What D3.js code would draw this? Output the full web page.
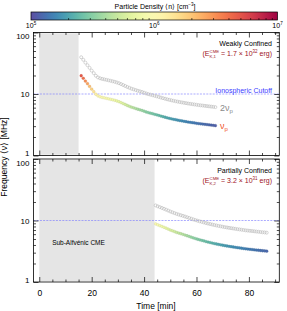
<!DOCTYPE html>
<html>
<head>
<meta charset="utf-8">
<script src="https://cdn.jsdelivr.net/npm/d3@7"></script>
<style>
  body { margin: 0; background: #fff; }
  svg { display: block; font-family: "Liberation Sans", Arial, sans-serif; }
</style>
</head>
<body>
<script>
// plasma frequency, MHz (nu_p); 2nu_p is the harmonic
const timesTop = [16.0,16.8,17.6,18.4,19.2,20.0,20.8,21.6,22.4,23.2,24.0,24.8,25.6,26.4,27.2,28.0,28.8,29.6,30.4,31.2,32.0,32.8,33.6,34.4,35.2,36.0,36.8,37.6,38.4,39.2,40.0,40.8,41.6,42.4,43.2,44.0,44.8,45.6,46.4,47.2,48.0,48.8,49.6,50.4,51.2,52.0,52.8,53.6,54.4,55.2,56.0,56.8,57.6,58.4,59.2,60.0,60.8,61.6,62.4,63.2,64.0,64.8,65.6,66.4,67.2];
const nuTop = [19.8,18.0,16.2,14.7,13.3,12.0,10.9,9.9,9.3,9.0,8.8,8.65,8.5,8.35,8.2,8.05,7.9,7.7,7.5,7.25,7.0,6.75,6.5,6.3,6.1,5.95,5.8,5.65,5.52,5.4,5.25,5.1,4.98,4.88,4.78,4.68,4.58,4.48,4.38,4.28,4.19,4.1,4.02,3.95,3.88,3.82,3.76,3.7,3.65,3.6,3.55,3.5,3.46,3.42,3.38,3.34,3.3,3.27,3.24,3.21,3.18,3.15,3.12,3.09,3.06];

const timesBottom = [44.4,45.2,46.0,46.8,47.6,48.4,49.2,50.0,50.8,51.6,52.4,53.2,54.0,54.8,55.6,56.4,57.2,58.0,58.8,59.6,60.4,61.2,62.0,62.8,63.6,64.4,65.2,66.0,66.8,67.6,68.4,69.2,70.0,70.8,71.6,72.4,73.2,74.0,74.8,75.6,76.4,77.2,78.0,78.8,79.6,80.4,81.2,82.0,82.8,83.6,84.4,85.2,86.0,86.8];
const nuBottom = [8.8,8.5,8.25,8.0,7.75,7.5,7.25,7.0,6.8,6.6,6.4,6.25,6.1,5.95,5.8,5.65,5.5,5.35,5.2,5.08,4.96,4.85,4.75,4.65,4.55,4.46,4.38,4.3,4.22,4.15,4.08,4.02,3.96,3.9,3.85,3.8,3.75,3.71,3.66,3.62,3.58,3.54,3.5,3.46,3.43,3.4,3.37,3.34,3.31,3.28,3.25,3.22,3.2,3.17];

// sub-Alfvenic intervals (min)
const shadeTop = [0, 15];
const shadeBottom = [0, 44];

const xTicks = [0, 20, 40, 60, 80];
const yTicks = [1, 10, 100];
const cbTicks = [1e5, 1e6, 1e7];
const cutoff = 10; // MHz

const w = 287, h = 311;

const svg = d3.select("body").append("svg")
  .attr("width", w).attr("height", h);

const x = d3.scaleLinear().domain([-2.2, 91.6]).range([33.5, 279.3]);

// density from plasma frequency: f_p [kHz] = 8.98 sqrt(n)
const density = nu => Math.pow(nu / 0.00898, 2);
const color = d3.scaleSequentialLog(t => d3.interpolateSpectral(1 - t)).domain([1e5, 1e7]);

// ---------- colorbar ----------
const cb = d3.scaleLog().domain([1e5, 1e7]).range([31, 277.5]);
const grad = svg.append("defs").append("linearGradient").attr("id", "cbgrad");
d3.range(0, 1.0001, 0.02).forEach(t => {
  grad.append("stop").attr("offset", t).attr("stop-color", color(Math.pow(10, 5 + 2 * t)));
});
svg.append("rect").attr("x", cb.range()[0]).attr("y", 12)
  .attr("width", cb.range()[1] - cb.range()[0]).attr("height", 8)
  .attr("fill", "url(#cbgrad)").attr("stroke", "#000").attr("stroke-width", 0.7);

const cbMinor = [2e5,3e5,4e5,5e5,6e5,7e5,8e5,9e5,2e6,3e6,4e6,5e6,6e6,7e6,8e6,9e6];
svg.append("g").attr("transform", "translate(0,20)")
  .call(d3.axisTop(cb).tickValues(cbMinor).tickSize(2).tickFormat(""))
  .call(g => g.select(".domain").remove())
  .call(g => g.selectAll("line").attr("stroke-width", 0.6));

cbTicks.forEach(v => {
  const t = svg.append("text").attr("x", cb(v)).attr("y", 27.5)
    .attr("text-anchor", "middle").attr("font-size", 7);
  t.append("tspan").text("10");
  t.append("tspan").text(Math.round(Math.log10(v))).attr("font-size", 4.5).attr("dy", -3);
});

const cbt = svg.append("text").attr("x", 155).attr("y", 8.5)
  .attr("text-anchor", "middle").attr("font-size", 7);
cbt.append("tspan").text("Particle Density \u27E8n\u27E9 [cm");
cbt.append("tspan").text("\u22123").attr("font-size", 4.5).attr("dy", -3);
cbt.append("tspan").text("]").attr("dy", 3);

// ---------- panels ----------
function panel(top, bottom, times, nus, shade, showX) {
  const y = d3.scaleLog().domain([1, 100]).range([bottom, top]);
  const g = svg.append("g");

  g.append("rect")
    .attr("x", x(shade[0])).attr("y", y(97))
    .attr("width", x(shade[1]) - x(shade[0])).attr("height", y(1.03) - y(97))
    .attr("fill", "#e5e5e5");

  g.append("line")
    .attr("x1", x.range()[0]).attr("x2", x.range()[1])
    .attr("y1", y(cutoff)).attr("y2", y(cutoff))
    .attr("stroke", "#7a7aff").attr("stroke-opacity", 0.7)
    .attr("stroke-width", 0.9).attr("stroke-dasharray", "2,1.2");

  const pts = times.map((t, i) => ({ t: t, nu: nus[i] }));

  g.selectAll("circle.harm").data(pts).enter().append("circle")
    .attr("class", "harm")
    .attr("cx", d => x(d.t)).attr("cy", d => y(2 * d.nu)).attr("r", 1.5)
    .attr("fill", "none").attr("stroke", "#b8b8b8").attr("stroke-width", 0.6);

  g.selectAll("circle.fund").data(pts).enter().append("circle")
    .attr("class", "fund")
    .attr("cx", d => x(d.t)).attr("cy", d => y(d.nu)).attr("r", 1.4)
    .attr("fill", d => color(density(d.nu)))
    .attr("stroke", d => d3.color(color(density(d.nu))).darker(0.6)).attr("stroke-width", 0.3);

  // frame
  g.append("rect").attr("x", x.range()[0]).attr("y", top)
    .attr("width", x.range()[1] - x.range()[0]).attr("height", bottom - top)
    .attr("fill", "none").attr("stroke", "#000").attr("stroke-width", 0.8);

  const xMinor = d3.range(0, 91, 5).filter(v => v % 20 !== 0);
  const yMinor = [2,3,4,5,6,7,8,9,20,30,40,50,60,70,80,90];
  const tidy = sel => sel.call(s => s.select(".domain").remove())
    .call(s => s.selectAll("line").attr("stroke-width", 0.7));

  g.append("g").attr("transform", `translate(0,${bottom})`)
    .call(d3.axisBottom(x).tickValues(xTicks).tickSize(-5).tickFormat(showX ? d3.format("d") : ""))
    .call(tidy)
    .call(s => s.selectAll("text").attr("font-size", 8.5).attr("y", 8).attr("dy", "0.71em").attr("font-family", null));
  g.append("g").attr("transform", `translate(0,${bottom})`)
    .call(d3.axisBottom(x).tickValues(xMinor).tickSize(-2.5).tickFormat("")).call(tidy);
  g.append("g").attr("transform", `translate(0,${top})`)
    .call(d3.axisTop(x).tickValues(xTicks).tickSize(-5).tickFormat("")).call(tidy);
  g.append("g").attr("transform", `translate(0,${top})`)
    .call(d3.axisTop(x).tickValues(xMinor).tickSize(-2.5).tickFormat("")).call(tidy);

  g.append("g").attr("transform", `translate(${x.range()[0]},0)`)
    .call(d3.axisLeft(y).tickValues(yTicks).tickSize(-5).tickFormat(d3.format("d")))
    .call(tidy)
    .call(s => s.selectAll("text").attr("font-size", 8).attr("x", -4).attr("font-family", null)
      .attr("y", d => d === 100 ? 3.5 : (d === 1 ? -2.5 : 0)));
  g.append("g").attr("transform", `translate(${x.range()[0]},0)`)
    .call(d3.axisLeft(y).tickValues(yMinor).tickSize(-2.5).tickFormat("")).call(tidy);
  g.append("g").attr("transform", `translate(${x.range()[1]},0)`)
    .call(d3.axisRight(y).tickValues(yTicks).tickSize(-5).tickFormat("")).call(tidy);
  g.append("g").attr("transform", `translate(${x.range()[1]},0)`)
    .call(d3.axisRight(y).tickValues(yMinor).tickSize(-2.5).tickFormat("")).call(tidy);

  return { g: g, y: y };
}

const pTop = panel(32.5, 155.5, timesTop, nuTop, shadeTop, false);
const pBot = panel(159, 282, timesBottom, nuBottom, shadeBottom, true);

// right-aligned label with stacked super/subscript
function energyLabel(yPos, sub, mant, expo) {
  const t = svg.append("text").attr("x", 0).attr("y", yPos)
    .attr("font-size", 7).attr("fill", "#a0141e");
  t.append("tspan").text("(E");
  const sp = t.append("tspan").text("CME").attr("font-size", 4.3).attr("dy", -3);
  const wSup = sp.node().getComputedTextLength();
  const sb = t.append("tspan").text(sub).attr("font-size", 4.3).attr("dy", 5).attr("dx", -wSup);
  const wSub = sb.node().getComputedTextLength();
  t.append("tspan").text(" = " + mant + " \u00D7 10").attr("dy", -2).attr("dx", Math.max(0, wSup - wSub));
  t.append("tspan").text(expo).attr("font-size", 4.5).attr("dy", -3);
  t.append("tspan").text(" erg)").attr("dy", 3);
  const bb = t.node().getBBox();
  t.attr("x", 272 - bb.width);
}

svg.append("text").attr("x", 272).attr("y", 46).attr("text-anchor", "end")
  .attr("font-size", 7).text("Weakly Confined");
energyLabel(55.5, "K,1", "1.7", "32");

svg.append("text").attr("x", 272).attr("y", 92.5).attr("text-anchor", "end")
  .attr("font-size", 7).attr("fill", "#3a3aff").text("Ionospheric Cutoff");

const l2 = svg.append("text").attr("x", 220).attr("y", 111).attr("font-size", 9).attr("fill", "#8a8a8a");
l2.append("tspan").text("2\u03BD");
l2.append("tspan").text("p").attr("font-size", 6).attr("dy", 2);
const l1 = svg.append("text").attr("x", 220).attr("y", 129).attr("font-size", 9).attr("fill", "#f0501e");
l1.append("tspan").text("\u03BD");
l1.append("tspan").text("p").attr("font-size", 6).attr("dy", 2);

svg.append("text").attr("x", 272).attr("y", 173).attr("text-anchor", "end")
  .attr("font-size", 7).text("Partially Confined");
energyLabel(182.5, "K,2", "3.2", "31");

svg.append("text").attr("x", 78.5).attr("y", 245).attr("text-anchor", "middle")
  .attr("font-size", 6.5).text("Sub-Alfv\u00E9nic CME");

svg.append("text").attr("x", 156).attr("y", 309).attr("text-anchor", "middle")
  .attr("font-size", 8.5).text("Time [min]");

svg.append("text").attr("transform", "translate(7,157) rotate(-90)")
  .attr("text-anchor", "middle").attr("font-size", 8.5)
  .text("Frequency \u27E8\u03BD\u27E9 [MHz]");
</script>
</body>
</html>
